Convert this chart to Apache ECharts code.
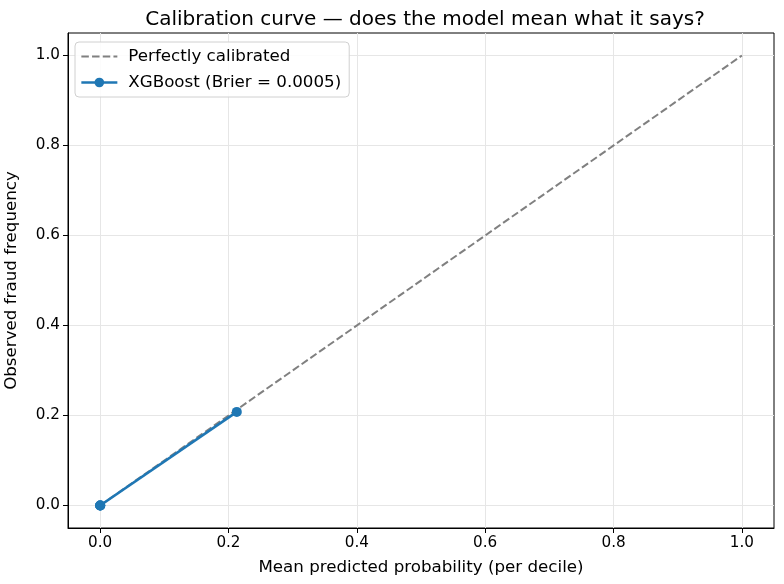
<!DOCTYPE html>
<html>
<head>
<meta charset="utf-8">
<script src="https://cdn.jsdelivr.net/npm/echarts@6/dist/echarts.min.js"></script>
<style>
  html, body { margin: 0; padding: 0; background: #fff; }
  #main { width: 784px; height: 584px; }
</style>
</head>
<body>
<div id="main"></div>
<script>
const chartDom = document.getElementById('main');
const myChart = echarts.init(chartDom);

// reference diagonal
let perfectX = [0, 1];
let perfectY = [0, 1];
// per-decile calibration points (most deciles sit at ~0)
let meanPred = [0.0, 0.0001, 0.0002, 0.0004, 0.213];
let fracPos = [0.0, 0.0, 0.0, 0.0, 0.208];
// tick values
let ticks = [0, 0.2, 0.4, 0.6, 0.8, 1.0];

const font = 'DejaVu Sans';

function axis(name, gap) {
    return {
        type: 'value',
        min: -0.05,
        max: 1.05,
        name: name,
        nameLocation: 'middle',
        nameGap: gap,
        nameTextStyle: { fontFamily: font, fontSize: 16.7, color: '#000' },
        axisLine: { show: true, onZero: false, lineStyle: { color: '#000', width: 1 } },
        axisTick: {
            show: true, length: 5, inside: false,
            customValues: ticks,
            lineStyle: { color: '#000', width: 1 }
        },
        axisLabel: {
            fontFamily: font, fontSize: 15.2, color: '#000', margin: 8,
            customValues: ticks,
            formatter: v => v.toFixed(1)
        },
        splitLine: { show: true, lineStyle: { color: '#e6e6e6', width: 1 } }
    };
}

let option = {
    animation: false,
    backgroundColor: '#fff',
    title: {
        text: 'Calibration curve — does the model mean what it says?',
        left: 420,
        textAlign: 'center',
        top: 5,
        textStyle: { fontFamily: font, fontSize: 20, fontWeight: 'normal', color: '#000' }
    },
    grid: {
        left: 68, right: 10, top: 33, bottom: 56,
        outerBoundsMode: 'none',
        containLabel: false,
        show: true, borderColor: '#000', borderWidth: 1, backgroundColor: 'transparent'
    },
    legend: {
        left: 75, top: 42,
        orient: 'vertical',
        itemWidth: 36, itemHeight: 12, itemGap: 9,
        padding: [6, 8, 6, 5],
        borderColor: '#d0d0d0', borderWidth: 1, borderRadius: 4,
        backgroundColor: 'rgba(255,255,255,0.85)',
        textStyle: { fontFamily: font, fontSize: 16.7, color: '#000', padding: [0, 0, 0, 6] },
        data: [
            { name: 'Perfectly calibrated', itemStyle: { opacity: 0 }, lineStyle: { width: 2 } },
            { name: 'XGBoost (Brier = 0.0005)', lineStyle: { width: 2.7 } }
        ]
    },
    xAxis: axis('Mean predicted probability (per decile)', 31),
    yAxis: axis('Observed fraud frequency', 48),
    series: [
        {
            name: 'Perfectly calibrated',
            type: 'line',
            symbol: 'none',
            data: perfectX.map((x, i) => [x, perfectY[i]]),
            lineStyle: { color: '#808080', width: 2, type: [7.5, 3.2] },
            itemStyle: { color: '#808080' },
            z: 2
        },
        {
            name: 'XGBoost (Brier = 0.0005)',
            type: 'line',
            symbol: 'circle',
            symbolSize: 10,
            showAllSymbol: true,
            data: meanPred.map((x, i) => [x, fracPos[i]]),
            lineStyle: { color: '#1f77b4', width: 2.7 },
            itemStyle: { color: '#1f77b4' },
            z: 3
        }
    ]
};

myChart.setOption(option);
</script>
</body>
</html>
